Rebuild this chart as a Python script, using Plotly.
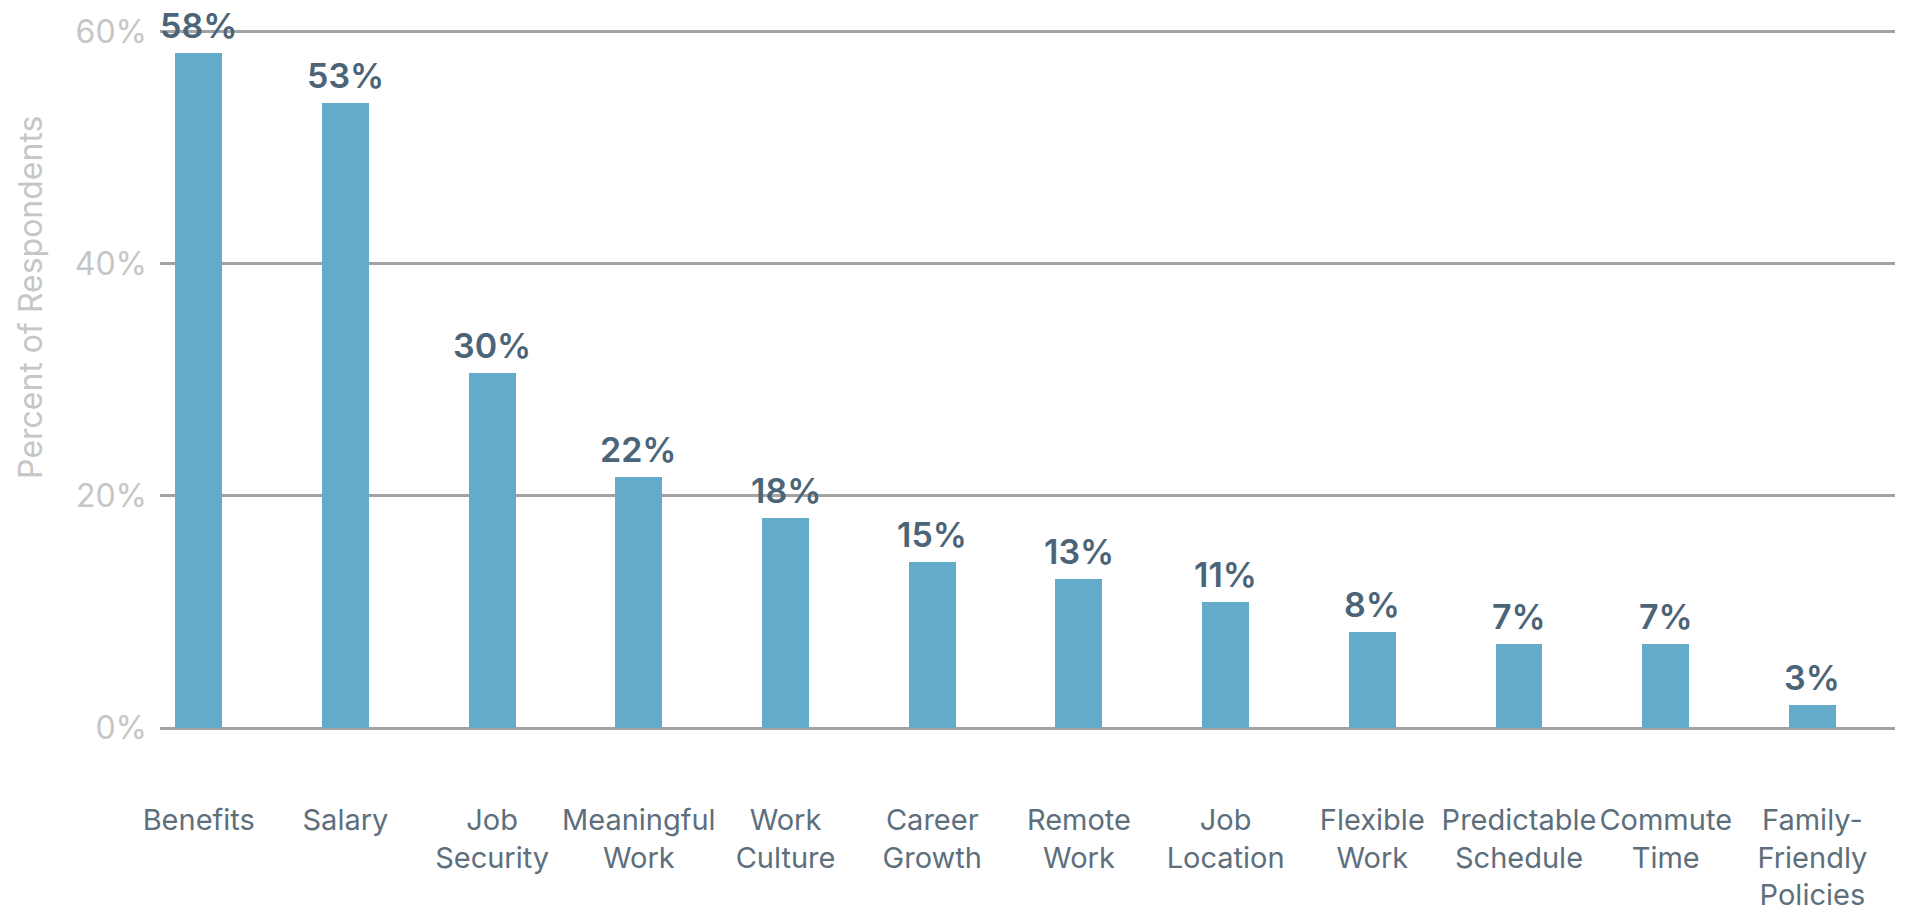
import plotly.graph_objects as go

categories = ["Benefits", "Salary", "Job<br>Security", "Meaningful<br>Work", "Work<br>Culture",
              "Career<br>Growth", "Remote<br>Work", "Job<br>Location", "Flexible<br>Work",
              "Predictable<br>Schedule", "Commute<br>Time", "Family-<br>Friendly<br>Policies"]
values = [58.2, 53.9, 30.6, 21.6, 18.1, 14.3, 12.8, 10.9, 8.3, 7.2, 7.2, 2.0]
value_labels = ["58%", "53%", "30%", "22%", "18%", "15%", "13%", "11%", "8%", "7%", "7%", "3%"]
y_ticks = [0, 20, 40, 60]
y_tick_labels = ["0%", "20%", "40%", "60%"]

BAR = "#63abc9"
LABEL = "#4b6477"
TICK = "#5d6f7d"
LIGHT = "#c6c6c6"
GRID = "#a3a3a3"
FONT = "Inter"

fig = go.Figure()
fig.add_trace(go.Bar(x=categories, y=values, width=0.32, marker=dict(color=BAR, line=dict(width=0)),
                     hoverinfo="skip"))

for c, v, t in zip(categories, values, value_labels):
    fig.add_annotation(x=c, y=v, text=t, showarrow=False, yanchor="bottom",
                       yshift=5, font=dict(family=FONT, size=34, color=LABEL, weight=600))

fig.add_annotation(xref="paper", yref="paper", x=-0.0744, y=0.614, text="Percent of Respondents",
                   textangle=-90, showarrow=False, xanchor="center", yanchor="middle",
                   font=dict(family=FONT, size=32, color=LIGHT))

fig.update_layout(
    width=1929, height=918,
    margin=dict(l=160, r=34, t=26, b=190, autoexpand=False),
    plot_bgcolor="white", paper_bgcolor="white",
    showlegend=False,
    bargap=0,
    xaxis=dict(type="category", range=[-0.264, 11.563], showgrid=False, showline=False, ticks="",
               tickfont=dict(family=FONT, size=29, color=TICK), ticklabelstandoff=72,
               tickangle=0, automargin=False),
    yaxis=dict(range=[0, 60.5], tickvals=y_ticks, ticktext=y_tick_labels, showgrid=True,
               gridcolor=GRID, gridwidth=3, zeroline=True, zerolinecolor=GRID, zerolinewidth=3,
               showline=False, ticks="", ticklabelstandoff=12, automargin=False,
               tickfont=dict(family=FONT, size=32, color=LIGHT)),
)

fig.write_html("out.html")
